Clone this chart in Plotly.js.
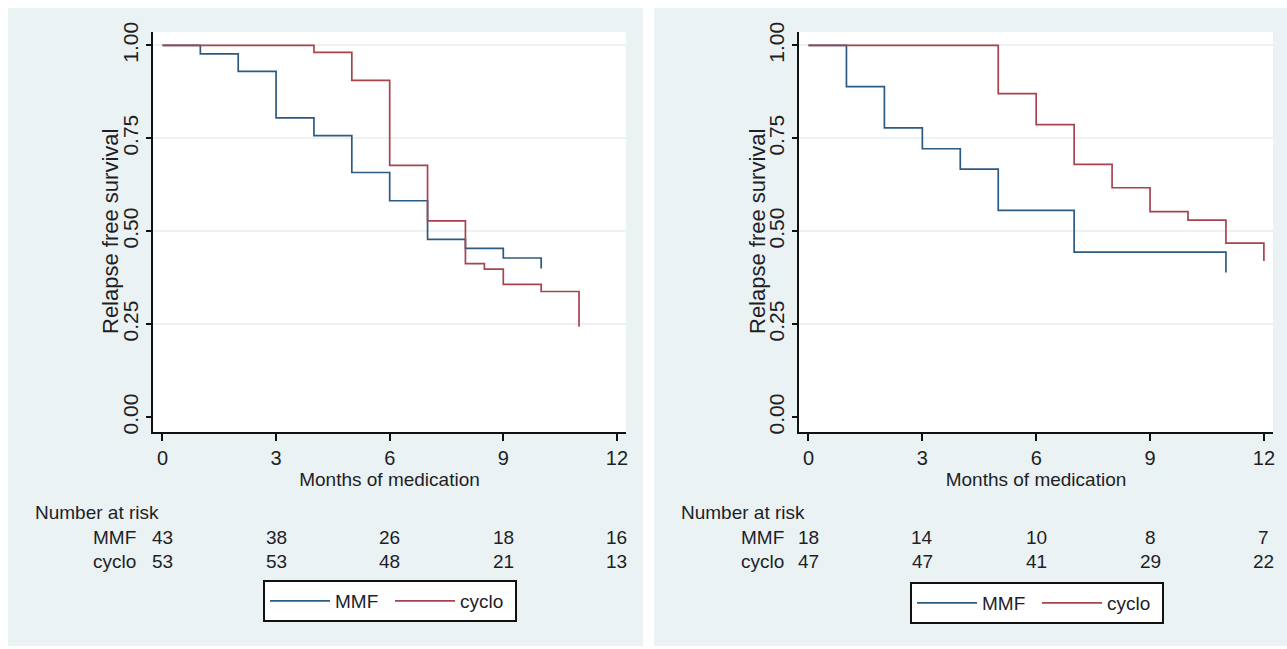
<!DOCTYPE html>
<html>
<head>
<meta charset="utf-8">
<script src="https://cdn.plot.ly/plotly-3.0.1.min.js"></script>
<style>
  html, body { margin: 0; padding: 0; background: #ffffff; }
  #chart { width: 1287px; height: 649px; }
</style>
</head>
<body>
<div id="chart"></div>
<script>
// ---------- data ----------
const xTickVals = [0, 3, 6, 9, 12];
const yTickVals = [0, 0.25, 0.5, 0.75, 1];
const yTickText = ["0.00", "0.25", "0.50", "0.75", "1.00"];

// Left panel
const leftMMFTime  = [0, 1, 2, 3, 4, 5, 6, 7, 8, 9, 10];
const leftMMFSurv  = [1, 0.977, 0.93, 0.805, 0.757, 0.658, 0.582, 0.478, 0.454, 0.428, 0.40];
const leftCycloTime = [0, 4, 5, 6, 7, 8, 8.5, 9, 10, 11];
const leftCycloSurv = [1, 0.981, 0.906, 0.677, 0.528, 0.413, 0.398, 0.357, 0.338, 0.243];

// Right panel
const rightMMFTime  = [0, 1, 2, 3, 4, 5, 7, 11];
const rightMMFSurv  = [1, 0.889, 0.778, 0.722, 0.667, 0.556, 0.444, 0.389];
const rightCycloTime = [0, 5, 6, 7, 8, 9, 10, 11, 12];
const rightCycloSurv = [1, 0.87, 0.787, 0.68, 0.617, 0.553, 0.53, 0.468, 0.42];

// Number at risk
const riskTimes = [0, 3, 6, 9, 12];
const leftRiskMMF   = [43, 38, 26, 18, 16];
const leftRiskCyclo = [53, 53, 48, 21, 13];
const rightRiskMMF   = [18, 14, 10, 8, 7];
const rightRiskCyclo = [47, 47, 41, 29, 22];

const groupNames = ["MMF", "cyclo"];
const xTitle = "Months of medication";
const yTitle = "Relapse free survival";
const riskHeader = "Number at risk";

// ---------- styling ----------
const W = 1287, H = 649;
const px = v => v / W;
const py = v => 1 - v / H;
const narrow = "'Liberation Sans Narrow', 'Arial Narrow', 'Liberation Sans', Arial, sans-serif";
const regular = "'Liberation Sans', Arial, sans-serif";
const textCol = "#1e1e28";
const blue = "#2f5a80";
const red = "#a8434e";
const panelBg = "#eaf2f3";
const hSize = 19;

const traces = [
  {x: leftMMFTime, y: leftMMFSurv, name: groupNames[0], xaxis: "x", yaxis: "y", legend: "legend"},
  {x: leftCycloTime, y: leftCycloSurv, name: groupNames[1], xaxis: "x", yaxis: "y", legend: "legend"},
  {x: rightMMFTime, y: rightMMFSurv, name: groupNames[0], xaxis: "x2", yaxis: "y2", legend: "legend2"},
  {x: rightCycloTime, y: rightCycloSurv, name: groupNames[1], xaxis: "x2", yaxis: "y2", legend: "legend2"}
].map((t, i) => Object.assign(t, {
  type: "scatter", mode: "lines",
  line: {shape: "hv", color: i % 2 === 0 ? blue : red, width: 1.7},
  hoverinfo: "x+y+name"
}));

function xAxis(domain, anchor) {
  return {
    domain: domain, anchor: anchor, range: [-0.25, 12.24],
    tickvals: xTickVals, ticktext: xTickVals.map(String),
    ticks: "outside", ticklen: 7, tickwidth: 1.5, tickcolor: "#111",
    showline: true, linecolor: "#111", linewidth: 1.6,
    showgrid: false, zeroline: false, fixedrange: true,
    tickfont: {family: narrow, size: 20, color: textCol},
    title: {text: xTitle, font: {family: narrow, size: hSize, color: textCol}, standoff: 0},
    automargin: false
  };
}
function yAxis(domain, anchor) {
  return {
    domain: domain, anchor: anchor, range: [-0.04, 1.036],
    tickvals: yTickVals, ticktext: yTickText, tickangle: -90,
    ticks: "outside", ticklen: 5, tickwidth: 1.5, tickcolor: "#111",
    showline: true, linecolor: "#111", linewidth: 1.6,
    showgrid: true, gridcolor: panelBg, gridwidth: 1.5,
    zeroline: true, zerolinecolor: "#ffffff", zerolinewidth: 3,
    fixedrange: true,
    tickfont: {family: regular, size: 21, color: textCol},
    automargin: false
  };
}

const yDomain = [py(432), py(32)];
const legendCommon = {
  orientation: "h", xanchor: "left", yanchor: "top",
  bgcolor: "#ffffff", bordercolor: "#111", borderwidth: 2,
  font: {family: narrow, size: hSize, color: textCol},
  itemwidth: 60, entrywidth: 50, entrywidthmode: "pixels"
};
const layout = {
  width: W, height: H,
  margin: {l: 0, r: 0, t: 0, b: 0},
  paper_bgcolor: "#ffffff", plot_bgcolor: "#ffffff",
  showlegend: true,
  xaxis: xAxis([px(153), px(626)], "y"),
  yaxis: yAxis(yDomain, "x"),
  xaxis2: xAxis([px(799), px(1273)], "y2"),
  yaxis2: yAxis(yDomain, "x2"),
  shapes: [
    {type: "rect", xref: "paper", yref: "paper", x0: px(8), x1: px(643), y0: py(646), y1: py(8),
     fillcolor: panelBg, line: {width: 0}, layer: "below"},
    {type: "rect", xref: "paper", yref: "paper", x0: px(654), x1: px(1287), y0: py(646), y1: py(8),
     fillcolor: panelBg, line: {width: 0}, layer: "below"},
    {type: "rect", xref: "x domain", yref: "y domain", x0: 0, x1: 1, y0: 0, y1: 1,
     fillcolor: "#ffffff", line: {width: 0}, layer: "below"},
    {type: "rect", xref: "x2 domain", yref: "y2 domain", x0: 0, x1: 1, y0: 0, y1: 1,
     fillcolor: "#ffffff", line: {width: 0}, layer: "below"}
  ],
  legend: Object.assign({x: px(263), y: py(580)}, legendCommon),
  legend2: Object.assign({x: px(910), y: py(582)}, legendCommon),
  annotations: []
};

// Y-axis titles (rotated)
[["y", 110], ["y2", 757]].forEach(([ax, xx]) => {
  layout.annotations.push({
    xref: "paper", yref: ax + " domain", x: px(xx), y: 0.5, xanchor: "center", yanchor: "middle",
    text: yTitle, textangle: -90, showarrow: false,
    font: {family: regular, size: 22, color: textCol}
  });
});

// Number-at-risk tables
function riskTable(xref, headerX, labelX, rowsMMF, rowsCyclo) {
  const tFont = {family: narrow, size: hSize, color: textCol};
  const ann = layout.annotations;
  ann.push({xref: "paper", yref: "paper", x: px(headerX), y: py(512), xanchor: "left", yanchor: "middle",
            text: riskHeader, showarrow: false, font: tFont});
  [[groupNames[0], rowsMMF, 537], [groupNames[1], rowsCyclo, 561]].forEach(([lab, vals, yy]) => {
    ann.push({xref: "paper", yref: "paper", x: px(labelX), y: py(yy), xanchor: "right", yanchor: "middle",
              text: lab, showarrow: false, font: tFont});
    riskTimes.forEach((t, i) => {
      ann.push({xref: xref, yref: "paper", x: t, y: py(yy), xanchor: "center", yanchor: "middle",
                text: String(vals[i]), showarrow: false, font: tFont});
    });
  });
}
riskTable("x", 33, 138, leftRiskMMF, leftRiskCyclo);
riskTable("x2", 679, 786, rightRiskMMF, rightRiskCyclo);

Plotly.newPlot("chart", traces, layout, {displayModeBar: false, responsive: false});
</script>
</body>
</html>
